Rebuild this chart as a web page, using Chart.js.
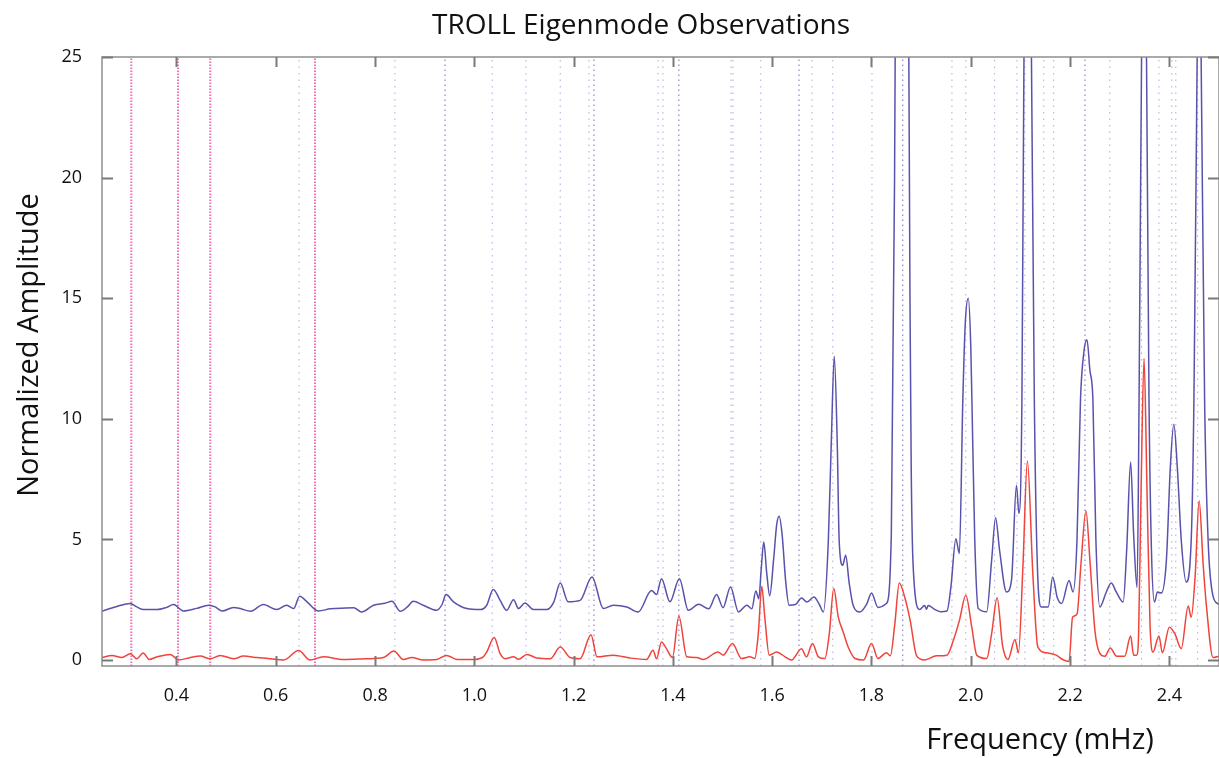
<!DOCTYPE html>
<html>
<head>
<meta charset="utf-8">
<script src="https://cdn.jsdelivr.net/npm/chart.js@4.4.1/dist/chart.umd.min.js"></script>
<style>
  html, body { margin: 0; padding: 0; background: #fff; }
  #wrap { width: 1219px; height: 758px; }
</style>
</head>
<body>
<div id="wrap"><canvas id="chart" width="1219" height="758"></canvas></div>
<script>
// spectrum (frequency in mHz, normalized amplitude)
const freqBlue = [0.250,0.280,0.307,0.320,0.334,0.361,0.380,0.394,0.414,0.441,0.465,0.478,0.492,0.515,0.530,0.549,0.575,0.602,0.622,0.636,0.648,0.663,0.686,0.710,0.740,0.757,0.773,0.797,0.820,0.834,0.851,0.865,0.877,0.897,0.924,0.935,0.943,0.958,0.985,1.012,1.025,1.038,1.052,1.065,1.079,1.089,1.102,1.119,1.146,1.160,1.173,1.189,1.213,1.237,1.260,1.280,1.307,1.330,1.357,1.367,1.377,1.394,1.413,1.431,1.452,1.472,1.488,1.501,1.516,1.532,1.549,1.559,1.567,1.573,1.578,1.583,1.589,1.595,1.603,1.609,1.614,1.620,1.627,1.634,1.647,1.659,1.670,1.684,1.695,1.703,1.713,1.719,1.725,1.731,1.735,1.742,1.748,1.755,1.763,1.777,1.790,1.800,1.813,1.830,1.840,1.8465,1.849,1.862,1.874,1.8775,1.880,1.884,1.897,1.907,1.911,1.914,1.928,1.940,1.952,1.960,1.970,1.977,1.984,1.989,1.995,2.000,2.003,2.008,2.015,2.032,2.042,2.050,2.058,2.072,2.082,2.092,2.097,2.103,2.108,2.115,2.121,2.128,2.134,2.142,2.156,2.165,2.174,2.183,2.198,2.206,2.214,2.221,2.228,2.234,2.240,2.246,2.252,2.260,2.273,2.283,2.293,2.307,2.314,2.322,2.328,2.335,2.339,2.344,2.349,2.354,2.359,2.364,2.370,2.376,2.384,2.394,2.402,2.409,2.416,2.424,2.434,2.444,2.4495,2.456,2.460,2.464,2.471,2.478,2.488,2.500];
const ampBlue = [2.02,2.22,2.34,2.20,2.09,2.09,2.18,2.30,2.03,2.14,2.27,2.20,2.03,2.18,2.12,2.02,2.30,2.09,2.27,2.13,2.64,2.41,2.03,2.12,2.15,2.16,1.99,2.27,2.35,2.43,2.02,2.20,2.43,2.27,2.06,2.30,2.71,2.41,2.13,2.09,2.27,2.92,2.47,2.06,2.50,2.13,2.36,2.09,2.09,2.40,3.19,2.41,2.47,3.44,2.13,2.27,2.20,1.99,2.88,2.71,3.37,2.41,3.37,2.06,2.31,2.12,2.71,2.17,3.03,1.99,2.27,2.12,2.86,2.54,3.80,4.89,3.60,2.66,4.20,5.60,5.96,5.20,3.30,2.27,2.30,2.57,2.40,2.61,2.30,1.99,4.90,9.00,12.59,9.00,4.90,3.93,4.34,3.20,2.27,1.99,2.30,2.78,2.18,2.34,5.24,20,30,40,30,15,8,3.86,2.09,2.26,2.10,2.26,2.09,2.00,2.03,3.03,5.03,4.41,10.8,14.0,15.0,13.0,10.0,5.0,2.14,2.00,4.13,5.90,4.55,2.82,3.30,7.24,6.07,10.8,28,38,28,10.8,4.0,2.20,2.20,3.44,2.60,2.34,3.30,2.82,5.0,10.8,12.8,13.28,12.0,10.8,5.0,2.20,2.82,3.19,2.82,2.40,4.55,8.21,5.24,3.0,10.8,25,35,25,10.8,4.5,2.40,2.82,2.78,4.13,8.0,9.77,8.0,4.96,3.23,4.96,10.8,25,33,25,10.8,5.0,2.65,2.30];

const freqRed = [0.250,0.270,0.290,0.307,0.320,0.333,0.345,0.361,0.388,0.404,0.428,0.448,0.468,0.488,0.515,0.535,0.562,0.589,0.616,0.646,0.669,0.696,0.736,0.783,0.817,0.838,0.857,0.874,0.897,0.924,0.944,0.965,0.998,1.018,1.025,1.040,1.052,1.062,1.079,1.089,1.106,1.126,1.153,1.173,1.193,1.213,1.235,1.247,1.280,1.314,1.347,1.360,1.367,1.377,1.387,1.399,1.412,1.428,1.448,1.461,1.491,1.501,1.520,1.538,1.555,1.565,1.572,1.579,1.585,1.594,1.609,1.626,1.639,1.659,1.669,1.681,1.693,1.706,1.715,1.724,1.733,1.743,1.753,1.767,1.784,1.800,1.813,1.830,1.838,1.847,1.856,1.867,1.878,1.891,1.907,1.931,1.952,1.965,1.977,1.990,2.002,2.012,2.032,2.042,2.053,2.064,2.075,2.089,2.096,2.105,2.114,2.125,2.135,2.152,2.172,2.185,2.198,2.205,2.214,2.222,2.232,2.240,2.250,2.260,2.270,2.281,2.294,2.310,2.322,2.328,2.334,2.338,2.343,2.349,2.355,2.361,2.367,2.379,2.386,2.400,2.411,2.424,2.438,2.444,2.452,2.460,2.468,2.475,2.488,2.500];
const ampRed = [0.10,0.19,0.10,0.26,0.05,0.29,0.02,0.13,0.23,0.00,0.10,0.16,0.05,0.19,0.05,0.16,0.10,0.05,0.00,0.39,0.00,0.13,0.02,0.05,0.10,0.37,0.02,0.10,0.00,0.02,0.19,0.02,0.02,0.13,0.33,0.93,0.26,0.05,0.13,0.03,0.23,0.08,0.05,0.54,0.10,0.05,1.05,0.13,0.20,0.08,0.02,0.40,0.05,0.75,0.47,0.10,1.81,0.13,0.10,0.02,0.33,0.20,0.68,0.06,0.13,0.06,1.09,3.06,1.79,0.20,0.33,0.13,0.00,0.47,0.13,0.68,0.13,0.06,1.09,2.96,1.79,1.16,0.54,0.06,0.00,0.68,0.06,0.30,0.17,1.50,3.19,2.60,1.63,0.17,0.00,0.17,0.20,0.82,1.63,2.68,1.36,0.20,0.06,1.09,2.58,0.60,0.02,0.85,0.30,3.86,8.25,3.58,0.54,0.30,0.20,0.02,-0.06,1.77,1.90,3.99,6.18,4.13,1.23,0.27,0.15,0.50,0.15,0.15,0.99,0.20,0.20,1.00,7.0,12.5,7.0,1.50,0.33,0.99,0.30,1.36,1.09,0.47,2.24,1.77,3.50,6.60,4.00,2.17,0.10,0.16];

// dotted mode markers
const modeFreqPink = [0.309, 0.403, 0.468, 0.679];
const modeFreqBlue = [0.647, 0.840, 1.036, 1.104, 1.173, 1.231, 1.370, 1.380, 1.517, 1.521, 1.577, 1.680, 1.722, 1.801, 1.962, 1.990, 2.048, 2.093, 2.109, 2.147, 2.167, 2.280, 2.344, 2.379, 2.405, 2.413, 2.457];
const modeFreqBlueDark = [0.941, 1.241, 1.412, 1.654, 1.863, 2.230];

const xMin = 0.25, xMax = 2.5;
const yMin = -0.25, yMax = 25;

function toPoints(xs, ys) {
  return xs.map((f, i) => ({ x: f, y: ys[i] }));
}

function markerSets(freqs, color, width, dash) {
  return freqs.map(f => ({
    data: [{ x: f, y: yMin }, { x: f, y: yMax }],
    borderColor: color,
    borderWidth: width,
    borderDash: dash,
    pointRadius: 0,
    showLine: true,
    order: 2
  }));
}

// frame with inward ticks, like the original plot
const framePlugin = {
  id: 'frame',
  afterDatasetsDraw(chart) {
    const { ctx, chartArea: a, scales: { x, y } } = chart;
    ctx.save();
    ctx.strokeStyle = '#8e8e8e';
    ctx.lineWidth = 1.5;
    ctx.strokeRect(a.left, a.top, a.right - a.left, a.bottom - a.top);
    ctx.beginPath();
    x.ticks.forEach(t => {
      const px = Math.round(x.getPixelForValue(t.value)) + 0.5;
      ctx.moveTo(px, a.bottom); ctx.lineTo(px, a.bottom - 10);
      ctx.moveTo(px, a.top); ctx.lineTo(px, a.top + 10);
    });
    y.ticks.forEach(t => {
      const py = Math.round(y.getPixelForValue(t.value)) + 0.5;
      ctx.moveTo(a.left, py); ctx.lineTo(a.left + 11, py);
      ctx.moveTo(a.right, py); ctx.lineTo(a.right - 11, py);
    });
    ctx.strokeStyle = '#7a7a7a';
    ctx.lineWidth = 2;
    ctx.stroke();
    ctx.restore();
  }
};

// title texts placed where the original has them
const textPlugin = {
  id: 'texts',
  afterDraw(chart) {
    const ctx = chart.ctx;
    ctx.save();
    ctx.fillStyle = '#111';
    ctx.textAlign = 'center';
    ctx.textBaseline = 'middle';
    ctx.font = '28px "Open Sans"';
    ctx.fillText('TROLL Eigenmode Observations', 641, 26);
    ctx.font = '29px "Open Sans"';
    ctx.fillText('Frequency (mHz)', 1040, 741);
    ctx.translate(30, 345);
    ctx.rotate(-Math.PI / 2);
    ctx.fillText('Normalized Amplitude', 0, 0);
    ctx.restore();
  }
};

const datasets = [
  {
    label: 'Blue',
    data: toPoints(freqBlue, ampBlue),
    borderColor: 'rgb(88, 82, 172)',
    borderWidth: 1.5,
    pointRadius: 0,
    showLine: true,
    cubicInterpolationMode: 'monotone',
    order: 0
  },
  {
    label: 'Red',
    data: toPoints(freqRed, ampRed),
    borderColor: 'rgb(240, 68, 58)',
    borderWidth: 1.5,
    pointRadius: 0,
    showLine: true,
    cubicInterpolationMode: 'monotone',
    order: 0
  },
  ...markerSets(modeFreqPink, 'rgba(232, 60, 155, 0.75)', 2, [1.5, 1.5]),
  ...markerSets(modeFreqBlue, 'rgba(120, 110, 210, 0.6)', 1, [1.5, 5]),
  ...markerSets(modeFreqBlueDark, 'rgba(80, 70, 180, 0.8)', 1, [1.5, 3.5])
];

new Chart(document.getElementById('chart'), {
  type: 'scatter',
  data: { datasets: datasets },
  options: {
    responsive: false,
    animation: false,
    layout: { padding: { top: 57, right: 0, left: 0, bottom: 0 } },
    plugins: {
      legend: { display: false },
      tooltip: { enabled: false },
      title: { display: false }
    },
    scales: {
      x: {
        type: 'linear',
        min: xMin,
        max: xMax,
        grid: { display: false },
        border: { display: false },
        ticks: {
          stepSize: 0.2,
          includeBounds: false,
          padding: 11,
          color: '#111',
          font: { family: 'Open Sans', size: 18 },
          maxRotation: 0,
          callback: v => v.toFixed(1)
        },
        afterFit: s => { s.height = 92; }
      },
      y: {
        type: 'linear',
        min: yMin,
        max: yMax,
        grid: { display: false },
        border: { display: false },
        ticks: {
          stepSize: 5,
          includeBounds: false,
          padding: 12,
          color: '#111',
          font: { family: 'Open Sans', size: 18 }
        },
        afterFit: s => { s.width = 102; }
      }
    }
  },
  plugins: [framePlugin, textPlugin]
});
</script>
</body>
</html>
